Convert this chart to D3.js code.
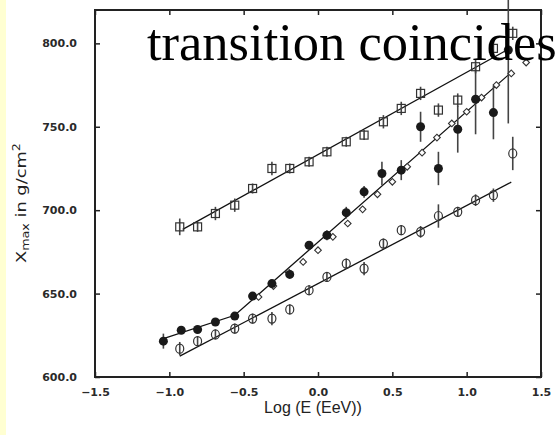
<!DOCTYPE html>
<html>
<head>
<meta charset="utf-8">
<script src="https://cdn.jsdelivr.net/npm/d3@7"></script>
<style>
  body { margin: 0; background: #fff; }
  svg { display: block; }
</style>
</head>
<body>
<div id="chart"></div>
<script>
// values: Log(E/EeV) against Xmax in g/cm2

// open squares (upper series)
const squareX = [-0.93, -0.81, -0.69, -0.56, -0.44, -0.31, -0.19, -0.06, 0.06, 0.19, 0.31, 0.44, 0.56, 0.69, 0.81, 0.94, 1.06, 1.18, 1.31]
const squareY = [690, 690, 698, 703, 713, 725, 725, 729, 735, 741, 745, 753, 761, 770, 760, 766, 786, 797, 806]
const squareErr = [5, 3, 4, 4, 3, 4, 3, 3, 3, 3, 3, 4, 4, 4, 4, 4, 4, 4, 4]

// filled circles
const filledX = [-1.04, -0.92, -0.81, -0.69, -0.56, -0.44, -0.31, -0.19, -0.06, 0.06, 0.19, 0.31, 0.43, 0.56, 0.69, 0.81, 0.94, 1.06, 1.18, 1.28]
const filledY = [621.5, 628, 628.5, 633, 636.5, 648.5, 656, 661.5, 679, 685, 698.5, 711, 722, 724, 750, 725, 748.5, 766.5, 758.5, 796]
const filledErr = [4.5, 2, 2, 2, 2, 2, 2, 2, 2.5, 3, 3.5, 3.5, 7, 6, 9, 10, 14, 21, 16, 44]

// open diamonds (no error bars)
const diamondX = [-0.4, -0.3, -0.2, -0.1, 0.0, 0.1, 0.2, 0.3, 0.4, 0.5, 0.6, 0.7, 0.8, 0.9, 1.0, 1.1, 1.2, 1.3, 1.4]
const diamondY = [648, 654.5, 663, 669, 676, 684, 692, 700.5, 709.5, 717, 726, 734.5, 743.5, 752, 759, 767.5, 775, 782, 788.5]

// open circles (lower series)
const circleX = [-0.93, -0.81, -0.69, -0.56, -0.44, -0.31, -0.19, -0.06, 0.06, 0.19, 0.31, 0.44, 0.56, 0.69, 0.81, 0.94, 1.06, 1.18, 1.31]
const circleY = [617, 621.5, 625.5, 629, 635, 635, 640.5, 652, 660, 668, 665, 680, 688, 687, 696.5, 699, 706, 709, 734]
const circleErr = [4, 3, 3, 3, 3, 4, 3, 3, 3, 3, 4, 3, 3, 3.5, 7, 3, 3.5, 4, 10]

// fitted lines
const fitSquares = [[-0.91, 688.5], [1.28, 796.5]]
const fitFilled = [[-1.04, 623], [-0.56, 637], [1.30, 782.6]]
const fitCircles = [[-0.93, 612.5], [1.30, 716.8]]

const xTicks = [-1.5, -1.0, -0.5, 0.0, 0.5, 1.0, 1.5]
const yTicks = [600, 650, 700, 750, 800]

const width = 558, height = 435
const svg = d3.select('#chart').append('svg')
  .attr('width', width)
  .attr('height', height)

svg.append('rect').attr('width', width).attr('height', height).attr('fill', '#fff')
svg.append('rect').attr('width', 6).attr('height', height).attr('fill', '#ffffd2')

const scaleX = d3.scaleLinear().domain([-1.5, 1.5]).range([95, 541])
const scaleY = d3.scaleLinear().domain([600, 820]).range([377, 10])

const zip = (xs, ys, es) => xs.map((x, i) => ({x: x, y: ys[i], e: es ? es[i] : 0}))
const squares = zip(squareX, squareY, squareErr)
const filled = zip(filledX, filledY, filledErr)
const diamonds = zip(diamondX, diamondY)
const circles = zip(circleX, circleY, circleErr)

// axes, ticks pointing inward on all four sides
const fmt = d3.format('.1f')
const bottom = svg.append('g')
  .attr('transform', 'translate(0,377)')
  .call(d3.axisBottom(scaleX).tickValues(xTicks).tickSize(-5).tickPadding(11).tickFormat(fmt))
const left = svg.append('g')
  .attr('transform', 'translate(95,0)')
  .call(d3.axisLeft(scaleY).tickValues(yTicks).tickSize(-5).tickPadding(18).tickFormat(fmt))
svg.append('g')
  .attr('transform', 'translate(0,10)')
  .call(d3.axisTop(scaleX).tickValues(xTicks).tickSize(-5).tickFormat(''))
svg.append('g')
  .attr('transform', 'translate(541,0)')
  .call(d3.axisRight(scaleY).tickValues(yTicks).tickSize(-5).tickFormat(''))

svg.selectAll('.domain').remove()
svg.selectAll('.tick line').attr('stroke', '#222').attr('stroke-width', 1.5)
svg.selectAll('.tick text')
  .attr('fill', '#2a2a2a')
  .style('font-family', 'DejaVu Sans, sans-serif')
  .style('font-weight', 'bold')
  .style('font-size', '11px')

svg.append('rect')
  .attr('x', 95).attr('y', 10)
  .attr('width', 446).attr('height', 367)
  .attr('fill', 'none')
  .attr('stroke', '#222')
  .attr('stroke-width', 2)

// fit lines
const line = d3.line()
  .x(d => scaleX(d[0]))
  .y(d => scaleY(d[1]))

svg.append('g').selectAll('path')
  .data([fitSquares, fitFilled, fitCircles])
  .enter()
  .append('path')
  .attr('d', d => line(d))
  .attr('fill', 'none')
  .attr('stroke', '#111')
  .attr('stroke-width', 1.3)

// error bars
svg.append('g').selectAll('line')
  .data(squares.concat(filled, circles))
  .enter()
  .append('line')
  .attr('x1', d => scaleX(d.x))
  .attr('x2', d => scaleX(d.x))
  .attr('y1', d => scaleY(d.y - d.e))
  .attr('y2', d => scaleY(d.y + d.e))
  .attr('stroke', '#444')
  .attr('stroke-width', 1.6)

// diamonds
svg.append('g').selectAll('path')
  .data(diamonds)
  .enter()
  .append('path')
  .attr('d', d3.symbol(d3.symbolSquare, 22))
  .attr('transform', d => `translate(${scaleX(d.x)},${scaleY(d.y)}) rotate(45)`)
  .attr('fill', '#fff')
  .attr('stroke', '#333')
  .attr('stroke-width', 1.1)

// open squares
svg.append('g').selectAll('rect')
  .data(squares)
  .enter()
  .append('rect')
  .attr('x', d => scaleX(d.x) - 4)
  .attr('y', d => scaleY(d.y) - 4)
  .attr('width', 8)
  .attr('height', 8)
  .attr('fill', 'none')
  .attr('stroke', '#333')
  .attr('stroke-width', 1.2)

// open circles
svg.append('g').selectAll('ellipse')
  .data(circles)
  .enter()
  .append('ellipse')
  .attr('cx', d => scaleX(d.x))
  .attr('cy', d => scaleY(d.y))
  .attr('rx', 4)
  .attr('ry', 4.5)
  .attr('fill', 'none')
  .attr('stroke', '#333')
  .attr('stroke-width', 1.2)

// filled circles
svg.append('g').selectAll('circle')
  .data(filled)
  .enter()
  .append('circle')
  .attr('cx', d => scaleX(d.x))
  .attr('cy', d => scaleY(d.y))
  .attr('r', 4.5)
  .attr('fill', '#1a1a1a')

// axis titles
svg.append('text')
  .attr('x', 313)
  .attr('y', 413)
  .attr('text-anchor', 'middle')
  .attr('fill', '#222')
  .style('font-family', 'Liberation Sans, Arial, sans-serif')
  .style('font-size', '16px')
  .text('Log (E (EeV))')

const yTitle = svg.append('text')
  .attr('transform', 'translate(25.5,263) rotate(-90) scale(1.27,1)')
  .attr('fill', '#222')
  .style('font-family', 'DejaVu Sans, sans-serif')
  .style('font-size', '14px')
yTitle.append('tspan').text('X')
yTitle.append('tspan').attr('dy', 3).style('font-size', '10px').text('max')
yTitle.append('tspan').attr('dy', -3).text(' in g/cm')
yTitle.append('tspan').attr('dy', -6).style('font-size', '10px').text('2')

// slide text over the top of the chart
svg.append('text')
  .attr('x', 147)
  .attr('y', 60)
  .attr('fill', '#000')
  .style('font-family', 'Liberation Serif, Times New Roman, serif')
  .style('font-size', '52.5px')
  .text('transition coincides')
</script>
</body>
</html>
